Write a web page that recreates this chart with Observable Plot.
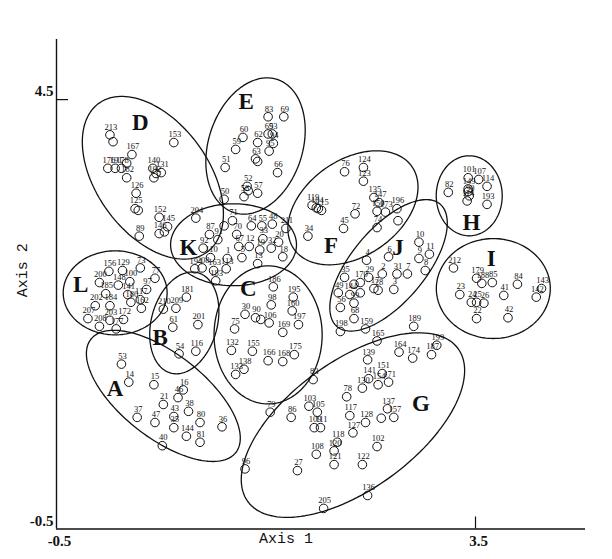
<!DOCTYPE html>
<html><head><meta charset="utf-8">
<script src="https://cdn.jsdelivr.net/npm/d3@7"></script>
<script src="https://cdn.jsdelivr.net/npm/@observablehq/plot@0.6"></script>
<style>html,body{margin:0;padding:0;background:#fff;} #chart svg{display:block;background:#fff;}</style>
</head><body><div id="chart"></div>
<script>
// ---- point data (Axis 1, Axis 2) ----
const pointLabels = [
 "213","","153","167","176","191","178","","182","140","","131","192","126","125","","152","145","","146","89","204",
 "83","69","65","93","94","60","62","63","","95","59","51","66","52","","58","57","50",
 "71","","87","91","70","92","67","110","1","163","113","194","208","183","64","55","48","211","33","20","12","32","19","18","5","13",
 "76","124","123","135","147","119","104","","115","72","150","173","196","45","74","34",
 "","6","4","35","29","2","31","7","","170","17","3","49","144","28","","56","99","68","10","9","11","8",
 "101","107","114","82","149","","90","193","114",
 "212","179","85","84","143","188","23","24","25","26","41","142","22","42",
 "156","129","73","77","200","148","100","97","185","141","117","202","184","180","162","207","203","208","172","177",
 "181","210","209","61","201","54","116",
 "53","14","15","16","46","21","43","35","38","37","47","80","36","144","81","40",
 "186","195","160","98","30","90","","106","169","197","75","132","155","166","168","175","138","133","83",
 "198","159","165","189","139","164","141","151","171","130","154","78","199","174","187","103","105","79","86","117","128","137","157","","109","111","118","127","102","108","120","121","122","96","27","136","205"
];
const pointX = [
 0.01,0.04,0.62,0.22,-0.01,0.06,0.12,0.17,0.17,0.42,0.45,0.50,0.43,0.26,0.25,0.28,0.48,0.56,0.53,0.48,0.29,0.83,
 1.52,1.67,1.52,1.56,1.57,1.28,1.42,1.40,1.42,1.53,1.21,1.11,1.61,1.32,1.33,1.29,1.42,1.10,
 1.18,1.10,0.96,1.04,1.22,0.90,1.24,0.97,1.13,1.00,1.12,0.82,0.89,1.02,1.36,1.46,1.56,1.69,1.47,1.62,1.34,1.55,1.44,1.66,1.27,1.42,
 2.25,2.43,2.43,2.53,2.58,1.94,1.98,2.00,2.03,2.35,2.56,2.64,2.75,2.24,2.56,1.90,
 2.76,2.67,2.46,2.25,2.48,2.61,2.75,2.85,2.34,2.40,2.53,2.72,2.19,2.30,2.57,2.40,2.21,2.34,2.34,2.96,2.96,3.06,3.02,
 3.43,3.53,3.61,3.24,3.43,3.43,3.44,3.61,3.42,
 3.29,3.51,3.66,3.90,4.13,3.56,3.35,3.46,3.51,3.58,3.77,4.08,3.51,3.81,
 0.00,0.13,0.30,0.44,-0.09,0.09,0.20,0.36,-0.03,0.18,0.30,-0.13,0.01,0.21,0.31,-0.20,0.01,-0.09,0.14,0.07,
 0.74,0.52,0.64,0.61,0.85,0.67,0.83,
 0.12,0.19,0.43,0.71,0.66,0.52,0.62,0.62,0.76,0.27,0.44,0.87,1.08,0.74,0.87,0.51,
 1.57,1.76,1.75,1.55,1.30,1.40,1.45,1.53,1.66,1.81,1.20,1.17,1.37,1.52,1.66,1.77,1.29,1.21,1.95,
 2.21,2.45,2.56,2.91,2.47,2.77,2.48,2.61,2.67,2.42,2.57,2.27,3.13,2.90,3.08,1.91,1.99,1.54,1.74,2.30,2.45,2.66,2.72,2.60,1.96,2.02,2.18,2.33,2.56,1.98,2.15,2.15,2.42,1.30,1.80,2.47,2.05
];
const pointY = [
 4.09,4.01,4.00,3.86,3.70,3.70,3.70,3.76,3.59,3.70,3.64,3.65,3.59,3.41,3.23,3.21,3.13,3.02,2.96,2.94,2.91,3.12,
 4.30,4.30,4.10,4.10,3.99,4.06,4.00,3.81,3.78,3.90,3.92,3.71,3.65,3.49,3.44,3.37,3.41,3.34,
 3.09,3.03,2.93,2.87,2.93,2.77,2.79,2.66,2.65,2.51,2.53,2.53,2.54,2.39,3.03,3.03,3.05,3.00,2.88,2.84,2.79,2.77,2.75,2.67,2.66,2.59,
 3.66,3.71,3.55,3.36,3.30,3.27,3.24,3.23,3.21,3.17,3.20,3.19,3.23,3.00,3.01,2.91,
 3.09,2.67,2.63,2.43,2.43,2.47,2.47,2.47,2.35,2.37,2.30,2.29,2.25,2.23,2.28,2.25,2.08,2.13,1.95,2.84,2.65,2.70,2.51,
 3.59,3.57,3.49,3.42,3.46,3.43,3.38,3.28,3.32,
 2.54,2.42,2.37,2.35,2.30,2.36,2.23,2.14,2.14,2.13,2.22,2.20,1.95,1.96,
 2.50,2.51,2.54,2.42,2.37,2.34,2.38,2.29,2.24,2.23,2.17,2.10,2.10,2.14,2.07,1.95,1.93,1.86,1.94,1.83,
 2.20,2.06,2.07,1.85,1.88,1.54,1.57,
 1.42,1.21,1.18,1.12,1.03,0.95,0.81,0.68,0.87,0.80,0.74,0.74,0.69,0.58,0.51,0.47,
 2.32,2.20,2.04,2.11,2.00,1.96,1.94,1.90,1.79,1.88,1.83,1.58,1.57,1.46,1.45,1.53,1.36,1.30,1.24,
 1.80,1.83,1.69,1.86,1.47,1.56,1.25,1.31,1.21,1.14,1.18,1.04,1.64,1.49,1.53,0.93,0.86,0.86,0.80,0.82,0.74,0.90,0.80,0.79,0.68,0.68,0.51,0.62,0.46,0.37,0.41,0.25,0.25,0.20,0.18,-0.11,-0.26
];

// ---- groups: letter position and enclosing ellipse ----
const groupNames   = ["A","B","C","D","E","F","G","H","I","J","K","L"];
const groupLabelX  = [0.06,0.49,1.33,0.30,1.31,2.12,2.98,3.46,3.65,2.76,0.76,-0.27];
const groupLabelY  = [1.14,1.73,2.30,4.23,4.48,2.80,0.96,3.07,2.65,2.78,2.78,2.34];
const ellipseCX    = [0.52,0.72,1.52,0.42,1.40,2.33,2.33,3.44,3.67,2.67,1.19,0.06];
const ellipseCY    = [1.05,1.90,1.76,3.59,3.96,3.24,0.71,3.38,2.30,2.57,2.81,2.25];
const ellipseA     = [0.878,0.496,0.659,0.878,0.668,0.687,1.241,0.382,0.544,0.764,0.601,0.496];
const ellipseB     = [0.401,0.315,0.516,0.535,0.449,0.458,0.611,0.315,0.477,0.353,0.391,0.401];
const ellipseAngle = [38,105,90,54,108,-35,-36,90,0,-50,0,0];

// ---- axes ----
const xTicks = [-0.5, 3.5];
const xTickLabels = ["-0.5", "3.5"];
const yTicks = [-0.5, 4.5];
const yTickLabels = ["-0.5", "4.5"];
const xTitle = "Axis 1";
const yTitle = "Axis 2";

const W = 612, H = 559, ML = 56, MR = 27, MT = 39, MB = 30.5;
const xDomain = [-0.5, 4.55], yDomain = [-0.5, 5.2];
const kx = (W - ML - MR) / (xDomain[1] - xDomain[0]);
const ky = (H - MT - MB) / (yDomain[1] - yDomain[0]);

const points = pointLabels.map((label, i) => ({label, x: pointX[i], y: pointY[i]}));
const outline = [];
groupNames.forEach((g, j) => {
  const a = ellipseA[j] * kx, b = ellipseB[j] * kx, phi = ellipseAngle[j] * Math.PI / 180;
  for (let k = 0; k <= 144; k++) {
    const t = 2 * Math.PI * k / 144;
    const ex = a * Math.cos(t), ey = b * Math.sin(t);
    const sx = ex * Math.cos(phi) - ey * Math.sin(phi);
    const sy = ex * Math.sin(phi) + ey * Math.cos(phi);
    outline.push({g, x: ellipseCX[j] + sx / kx, y: ellipseCY[j] - sy / ky});
  }
});
const groups = groupNames.map((g, i) => ({g, x: groupLabelX[i], y: groupLabelY[i]}));
const serif = "Liberation Serif, Times New Roman, serif";

const chart = Plot.plot({
  width: W, height: H,
  marginLeft: ML, marginRight: MR, marginTop: MT, marginBottom: MB,
  x: {domain: xDomain, axis: null},
  y: {domain: yDomain, axis: null},
  style: {background: "#fff", color: "#000"},
  marks: [
    Plot.ruleX([xDomain[0]], {stroke: "#111", strokeWidth: 1.4}),
    Plot.ruleY([yDomain[0]], {stroke: "#111", strokeWidth: 1.4}),
    Plot.ruleX(xTicks.filter(d => d !== xDomain[0]), {y1: yDomain[0], y2: yDomain[0], insetTop: -12, stroke: "#111", strokeWidth: 1.2}),
    Plot.ruleY(yTicks.filter(d => d !== yDomain[0]), {x1: xDomain[0], x2: xDomain[0], insetRight: -12, stroke: "#111", strokeWidth: 1.2}),
    Plot.line(outline, {x: "x", y: "y", z: "g", stroke: "#111", strokeWidth: 1.3}),
    Plot.dot(points, {x: "x", y: "y", r: 4.3, stroke: "#111", fill: "none", strokeWidth: 1}),
    Plot.text(points, {x: "x", y: "y", text: "label", dy: -8, dx: 1, fontSize: 8.5, fontFamily: serif, fill: "#111"}),
    Plot.text(groups, {x: "x", y: "y", text: "g", fontSize: 23, fontWeight: "bold", fontFamily: serif, fill: "#111"}),
    Plot.text(xTicks, {x: d => d, y: yDomain[0], text: (d, i) => xTickLabels[i], dy: 12, dx: 3, fontSize: 15, fontWeight: "bold", fontFamily: serif, fill: "#111"}),
    Plot.text(yTicks, {x: xDomain[0], y: d => d, text: (d, i) => yTickLabels[i], textAnchor: "end", dx: -3, dy: -8, fontSize: 15, fontWeight: "bold", fontFamily: serif, fill: "#111"}),
    Plot.text([xTitle], {frameAnchor: "bottom", text: d => d, dx: -35, dy: 14, fontSize: 15, fontFamily: "Liberation Mono, monospace", fill: "#111"}),
    Plot.text([yTitle], {frameAnchor: "left", text: d => d, rotate: -90, dx: -34, dy: 13, fontSize: 15, fontFamily: "Liberation Mono, monospace", fill: "#111"})
  ]
});
document.getElementById("chart").append(chart);
</script>
</body></html>
